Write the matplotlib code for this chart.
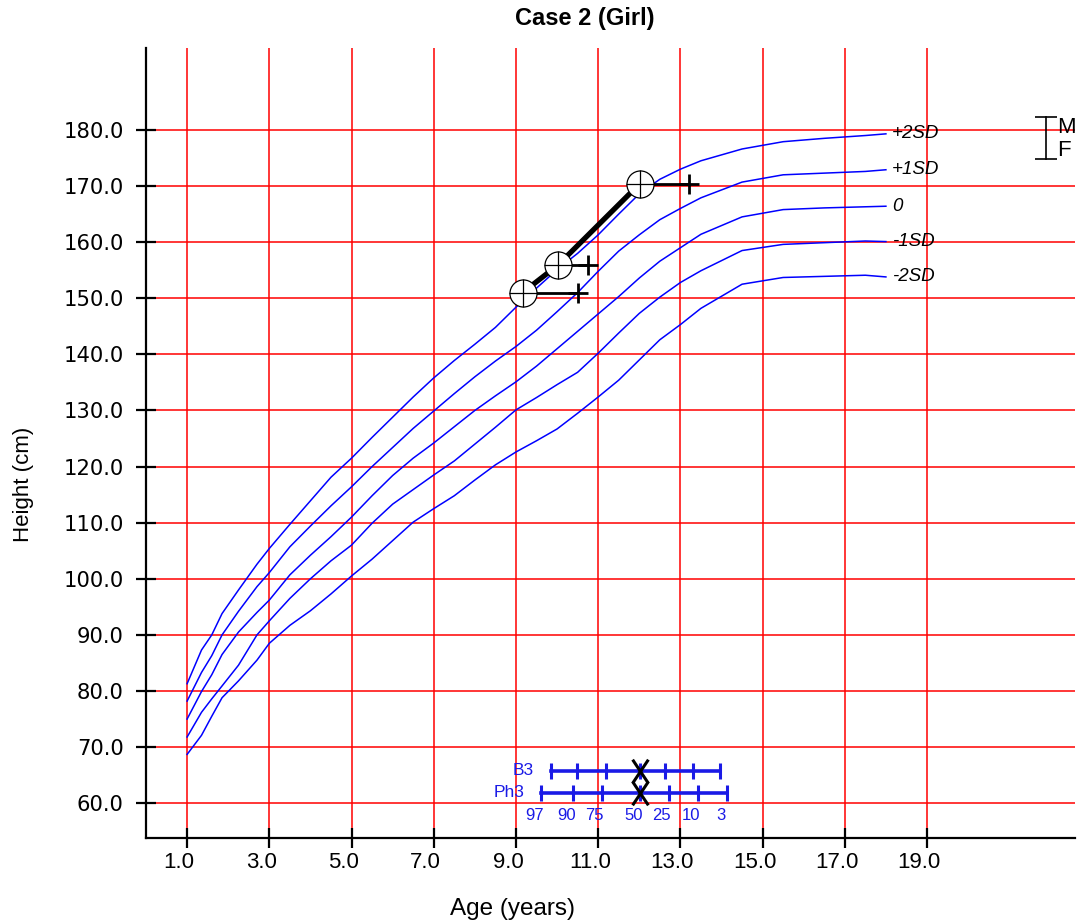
import matplotlib
matplotlib.use("Agg")
import matplotlib.pyplot as plt
import matplotlib.transforms as mtransforms
from matplotlib.path import Path

plt.rcParams['font.family'] = ['Liberation Sans', 'DejaVu Sans']

# reference curves (age in years, height in cm)
ages = [1.0, 1.35, 1.6, 1.85, 2.25, 2.7, 3.0, 3.5, 4.0, 4.5, 5.0, 5.5, 6.0, 6.5,
        7.0, 7.5, 8.0, 8.5, 9.0, 9.5, 10.0, 10.5, 11.0, 11.5, 12.0, 12.5, 13.0,
        13.5, 14.5, 15.5, 16.5, 17.5, 18.0]
sd_p2 = [81.3, 87.3, 90.0, 93.8, 98.0, 102.6, 105.4, 109.7, 113.9, 118.1, 121.5, 125.2,
         128.8, 132.4, 135.8, 138.9, 141.8, 144.8, 148.4, 151.8, 155.1, 158.0, 161.3,
         165.0, 168.6, 171.2, 173.0, 174.5, 176.6, 177.9, 178.5, 179.0, 179.3]
sd_p1 = [78.2, 83.3, 86.3, 90.0, 94.2, 98.6, 101.1, 105.7, 109.4, 113.0, 116.4, 120.0,
         123.4, 126.8, 129.9, 133.0, 136.0, 138.8, 141.4, 144.3, 147.6, 151.0, 154.8,
         158.4, 161.3, 164.0, 166.0, 167.9, 170.7, 172.0, 172.3, 172.6, 172.9]
sd_0 = [75.0, 79.9, 82.9, 86.5, 90.5, 94.0, 96.2, 100.7, 104.2, 107.5, 111.0, 114.8,
        118.4, 121.5, 124.2, 127.1, 130.0, 132.6, 135.1, 137.9, 141.0, 144.1, 147.2,
        150.3, 153.6, 156.6, 159.0, 161.4, 164.5, 165.8, 166.1, 166.3, 166.4]
sd_m1 = [71.8, 76.2, 78.6, 80.9, 84.6, 90.0, 92.5, 96.5, 100.0, 103.2, 106.0, 109.9,
         113.3, 115.9, 118.5, 121.0, 124.0, 127.0, 130.1, 132.3, 134.6, 136.8, 140.2,
         143.8, 147.3, 150.2, 152.8, 154.9, 158.5, 159.6, 159.9, 160.2, 160.1]
sd_m2 = [68.7, 72.1, 75.5, 78.8, 81.8, 85.5, 88.5, 91.7, 94.3, 97.3, 100.5, 103.5,
         106.8, 110.1, 112.5, 114.8, 117.6, 120.3, 122.6, 124.6, 126.7, 129.5, 132.4,
         135.4, 139.0, 142.6, 145.3, 148.2, 152.5, 153.7, 153.9, 154.1, 153.8]
sd_labels = ['+2SD', '+1SD', '0', '-1SD', '-2SD']

# patient measurements
visit_age = [9.16, 10.02, 12.01]
visit_height = [151.0, 155.9, 170.4]
bone_age = [10.51, 10.75, 13.21]

# parents (M / F)
parent_age = 21.89
parent_m = 182.35
parent_f = 174.8

# puberty stages
b3_ages = [9.86, 10.49, 11.20, 12.01, 12.63, 13.31, 13.96]
ph3_ages = [9.62, 10.39, 11.10, 12.01, 12.72, 13.43, 14.14]
b3_level = 65.75
ph3_level = 61.9
stage_age = 12.01
pct_labels = ['97', '90', '75', '50', '25', '10', '3']
pct_pos = [9.46, 10.23, 10.90, 11.86, 12.54, 13.25, 13.98]
pct_level = 57.85

fig = plt.figure(figsize=(10.81, 9.24), dpi=100)
ax = fig.add_axes([146/1081, 1-838/924, 929/1081, 790/924])
ax.set_xlim(0, 22.6)
ax.set_ylim(53.8, 194.6)

ax.set_xticks(range(1, 20, 2))
ax.set_xticklabels(['%.1f' % v for v in range(1, 20, 2)])
ax.set_yticks(range(60, 190, 10))
ax.set_yticklabels(['%.1f' % v for v in range(60, 190, 10)],
                   family=['DejaVu Sans'])
ax.tick_params(direction='inout', length=15, width=1.6, color='black')
ax.tick_params(axis='x', labelsize=16, pad=2.5)
ax.tick_params(axis='y', labelsize=15.2, pad=8.5)
# x tick labels sit a little left of their ticks
shift = mtransforms.ScaledTranslation(-8/100, 0, fig.dpi_scale_trans)
for lbl in ax.get_xticklabels():
    lbl.set_transform(lbl.get_transform() + shift)

ax.grid(True, color='#ff0000', linewidth=1.1)
ax.set_axisbelow(True)
for s in ['top', 'right']:
    ax.spines[s].set_visible(False)
for s in ['left', 'bottom']:
    ax.spines[s].set_linewidth(1.6)

for vals, lab in zip([sd_p2, sd_p1, sd_0, sd_m1, sd_m2], sd_labels):
    ax.plot(ages, vals, color='#0000ff', linewidth=1.1, zorder=3)
    ax.text(ages[-1] + 0.15, vals[-1], lab, style='italic', fontsize=13.5,
            va='center', ha='left', zorder=4)

# patient line, bone age lines, circles
ax.plot(visit_age, visit_height, color='black', linewidth=3.8, zorder=5)
for a, h, b in zip(visit_age, visit_height, bone_age):
    ax.plot([a, b], [h, h], color='black', linewidth=2.0, zorder=5)
    ax.plot(b, h, marker='+', markersize=14, mew=2.0, color='black', zorder=5)
ax.plot(visit_age, visit_height, 'o', markersize=19.5, mfc='white', mec='black',
        mew=0.9, zorder=6)
ax.plot(visit_age, visit_height, '+', markersize=19.5, mew=0.9, color='black', zorder=7)

# parents bracket
ax.plot([parent_age, parent_age], [parent_f, parent_m], color='black', linewidth=1.2)
ax.plot(parent_age, parent_m, marker='_', markersize=16, mew=1.2, color='black')
ax.plot(parent_age, parent_f, marker='_', markersize=16, mew=1.2, color='black')
ax.text(parent_age + 0.27, parent_m, 'M', fontsize=16, ha='left', va='top')
ax.text(parent_age + 0.27, parent_f - 0.3, 'F', fontsize=16, ha='left', va='bottom')

# puberty bars
bar_col = '#1a1ae6'
for xs, lvl, lab in [(b3_ages, b3_level, 'B3'), (ph3_ages, ph3_level, 'Ph3')]:
    ax.plot([xs[0], xs[-1]], [lvl, lvl], color=bar_col, linewidth=2.6, zorder=5)
    ax.plot(xs, [lvl] * len(xs), '|', markersize=11, mew=2.2, color=bar_col, zorder=5)
    ax.text(xs[0] - 0.42, lvl, lab, color=bar_col, fontsize=12.5, ha='right',
            va='center', zorder=5)
x_mark = Path([(-1, -1.5), (1, 1.5), (-1, 1.5), (1, -1.5)],
              [Path.MOVETO, Path.LINETO, Path.MOVETO, Path.LINETO])
ax.plot([stage_age, stage_age], [b3_level, ph3_level], linestyle='none',
        marker=x_mark, markersize=17, mew=2.2, color='black', zorder=6)
for t, p in zip(pct_labels, pct_pos):
    ax.text(p, pct_level, t, color=bar_col, fontsize=12, ha='center', va='center',
            zorder=5)

ax.set_xlabel('Age (years)', fontsize=17.5, va='center')
ax.xaxis.set_label_coords(0.395, -0.09)
ax.set_ylabel('Height (cm)', fontsize=16)
ax.yaxis.set_label_coords(-0.121, 0.447)
fig.text(585/1081, 1 - 19/924, 'Case 2 (Girl)', fontsize=17, fontweight='bold',
         ha='center', va='center')

fig.savefig('out.png', dpi=100)
